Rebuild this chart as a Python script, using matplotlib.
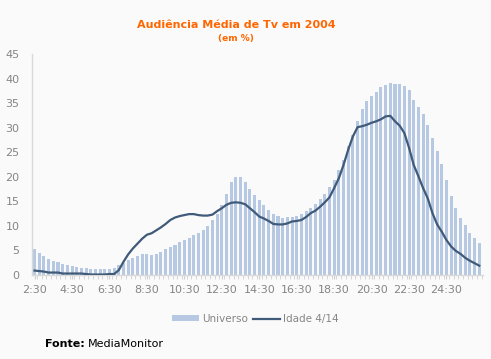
import matplotlib
matplotlib.use("Agg")
import matplotlib.pyplot as plt
import numpy as np

# 15-min slots from 2:30 to 26:15
tick_labels = ["2:30", "4:30", "6:30", "8:30", "10:30", "12:30",
               "14:30", "16:30", "18:30", "20:30", "22:30", "24:30"]

universo = [5.3, 4.5, 3.9, 3.3, 2.9, 2.7, 2.2, 2.0, 1.8, 1.6,
            1.4, 1.4, 1.2, 1.2, 1.2, 1.2, 1.2, 1.4, 2.0, 2.5,
            3.0, 3.5, 3.9, 4.3, 4.3, 4.1, 4.3, 4.7, 5.3, 5.7,
            6.1, 6.7, 7.1, 7.5, 8.2, 8.6, 9.2, 10.0, 11.2, 12.4,
            14.2, 16.5, 19.0, 20.0, 20.0, 19.0, 17.6, 16.3, 15.3, 14.3,
            13.3, 12.4, 12.0, 11.6, 11.8, 11.8, 12.0, 12.4, 13.1, 13.7,
            14.5, 15.5, 16.5, 18.0, 19.4, 21.4, 23.5, 26.3, 28.6, 31.4,
            33.9, 35.5, 36.5, 37.3, 38.2, 38.6, 39.0, 38.8, 38.8, 38.4,
            37.6, 35.7, 34.3, 32.7, 30.6, 27.8, 25.3, 22.7, 19.4, 16.1,
            13.7, 11.6, 10.2, 8.6, 7.6, 6.5]

idade = [0.9, 0.8, 0.7, 0.5, 0.5, 0.5, 0.3, 0.3, 0.3, 0.3,
         0.3, 0.2, 0.1, 0.1, 0.1, 0.1, 0.2, 0.2, 1.0, 2.7,
         4.2, 5.4, 6.4, 7.4, 8.2, 8.5, 9.1, 9.7, 10.4, 11.2,
         11.7, 12.0, 12.2, 12.4, 12.4, 12.2, 12.1, 12.1, 12.3, 13.0,
         13.6, 14.3, 14.7, 14.8, 14.7, 14.4, 13.6, 12.8, 11.9, 11.5,
         11.0, 10.4, 10.3, 10.3, 10.5, 10.9, 11.0, 11.2, 11.8, 12.6,
         13.1, 13.9, 14.8, 15.8, 17.7, 19.7, 22.4, 25.5, 28.2, 30.1,
         30.3, 30.6, 31.0, 31.3, 31.7, 32.3, 32.4, 31.3, 30.4, 28.9,
         25.9, 22.4, 20.1, 17.7, 15.6, 12.6, 10.3, 8.8, 7.1, 5.8,
         4.9, 4.3, 3.5, 2.9, 2.4, 1.9]

bg = "#FAFAFA"
bar_color = "#B7C9E2"
line_color = "#405A7A"
grey = "#858585"

fig = plt.figure(figsize=(4.91, 3.59), dpi=100, facecolor=bg)
ax = fig.add_axes([32/491, 1-275/359, (483-32)/491, (275-54)/359])
ax.set_facecolor(bg)

x = np.arange(len(universo))
bars = ax.bar(x, universo, width=0.65, color=bar_color, label="Universo", zorder=2)
line, = ax.plot(x, idade, color=line_color, lw=1.6, label="Idade 4/14", zorder=3)

ax.set_xlim(-0.55, 95.8)
ax.set_ylim(0, 45)
ax.set_yticks(np.arange(0, 46, 5))
ax.tick_params(axis="y", length=0, pad=9, labelsize=8, labelcolor=grey)

ax.set_xticks(x[::8])
ax.set_xticklabels(tick_labels)
ax.set_xticks(x + 0.5, minor=True)
ax.tick_params(axis="x", which="major", length=3, color="#D0D0D0",
               labelsize=8, labelcolor=grey, pad=4)
ax.tick_params(axis="x", which="minor", length=3, color="#D0D0D0")

for s in ["top", "right"]:
    ax.spines[s].set_visible(False)
for s in ["left", "bottom"]:
    ax.spines[s].set_color("#D9D9D9")
    ax.spines[s].set_linewidth(1.0)

fig.text(0.481, 1-25/359, "Audiência Média de Tv em 2004", ha="center",
         va="center", color="#FF6600", fontsize=8, fontweight="bold")
fig.text(0.481, 1-38/359, "(em %)", ha="center", va="center",
         color="#FF6600", fontsize=6.5, fontweight="bold")

leg = fig.legend([bars, line], ["Universo", "Idade 4/14"], loc="center",
                 bbox_to_anchor=(0.52, 1-319/359), ncol=2,
                 frameon=False, fontsize=7.5, handlelength=2.6,
                 handleheight=0.55, columnspacing=0.4, handletextpad=0.3)
for t in leg.get_texts():
    t.set_color(grey)

fig.text(45/491, 1-344/359, "Fonte:", ha="left", va="center",
         fontsize=8, fontweight="bold", color="black")
fig.text(88/491, 1-344/359, "MediaMonitor", ha="left", va="center",
         fontsize=8, color="black")

fig.savefig("out.png", dpi=100, facecolor=bg)
